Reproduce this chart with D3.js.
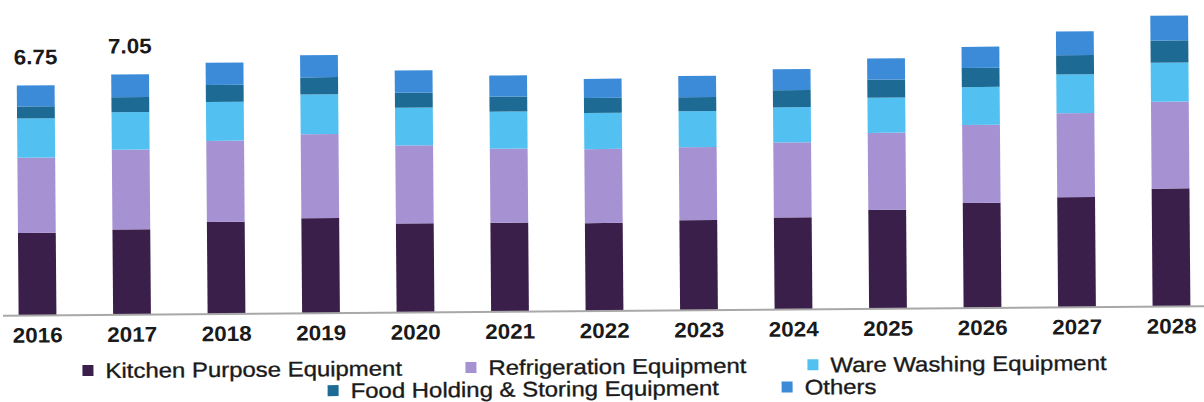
<!DOCTYPE html>
<html>
<head>
<meta charset="utf-8">
<script src="https://cdn.jsdelivr.net/npm/d3@7"></script>
<style>
  html, body { margin: 0; padding: 0; background: #fff; }
  svg { display: block; }
</style>
</head>
<body>
<svg id="chart" width="1204" height="402"></svg>
<script>
// ---- data ----
const years = ["2016","2017","2018","2019","2020","2021","2022","2023","2024","2025","2026","2027","2028"];
const seriesNames = ["Kitchen Purpose Equipment","Refrigeration Equipment","Ware Washing Equipment","Food Holding & Storing Equipment","Others"];
const kitchen       = [2.42, 2.50, 2.70, 2.79, 2.61, 2.61, 2.58, 2.64, 2.70, 2.90, 3.08, 3.23, 3.46];
const refrigeration = [2.21, 2.34, 2.38, 2.46, 2.29, 2.17, 2.17, 2.14, 2.20, 2.26, 2.29, 2.46, 2.55];
const wareWashing   = [1.15, 1.10, 1.14, 1.17, 1.11, 1.09, 1.06, 1.06, 1.03, 1.03, 1.11, 1.14, 1.14];
const foodHolding   = [0.35, 0.44, 0.50, 0.50, 0.44, 0.44, 0.44, 0.41, 0.50, 0.53, 0.56, 0.56, 0.65];
const others        = [0.62, 0.67, 0.65, 0.65, 0.65, 0.62, 0.56, 0.62, 0.62, 0.62, 0.62, 0.70, 0.73];
const totalLabels   = ["6.75", "7.05"]; // shown above the first two bars
const colors = ["#3b1f4b", "#a692d3", "#52c1f2", "#1d6a95", "#3b8bd9"];

// ---- build table ----
const keys = ["kitchen","refrigeration","wareWashing","foodHolding","others"];
const seriesArrays = [kitchen, refrigeration, wareWashing, foodHolding, others];
const table = years.map((yr, i) => {
  const row = { year: yr };
  keys.forEach((k, j) => row[k] = seriesArrays[j][i]);
  return row;
});
const stacked = d3.stack().keys(keys)(table);

const svg = d3.select("#chart");
const baseY = 311;
const root = svg.append("g").attr("transform", `rotate(-0.455, 600, ${baseY})`);

const x = d3.scaleBand().domain(years).range([-9.75, 1218.75]).paddingInner(0.6).paddingOuter(0.3);
const y = d3.scaleLinear().domain([0, 9]).range([baseY, baseY - 9 * 34.1]);
const color = d3.scaleOrdinal().domain(keys).range(colors);

// bars
root.append("g").selectAll("g").data(stacked).join("g")
  .attr("fill", d => color(d.key))
  .selectAll("rect").data(d => d).join("rect")
  .attr("x", d => x(d.data.year))
  .attr("width", x.bandwidth())
  .attr("y", d => y(d[1]))
  .attr("height", d => y(d[0]) - y(d[1]));

// baseline
root.append("line")
  .attr("x1", 3).attr("x2", 1210)
  .attr("y1", baseY).attr("y2", baseY)
  .attr("stroke", "#a8a8a8").attr("stroke-width", 2);

// x axis
const axis = root.append("g").attr("transform", `translate(0,${baseY})`)
  .call(d3.axisBottom(x).tickSize(0));
axis.select(".domain").remove();
axis.selectAll("text")
  .attr("y", 27).attr("dy", 0)
  .attr("transform", "scale(1.07,1)")
  .attr("font-family", "'Liberation Sans', Arial, sans-serif")
  .attr("font-size", 21).attr("font-weight", "bold").attr("fill", "#1a1a1a");

// total labels
const topVals = table.map(r => keys.reduce((s, k) => s + r[k], 0));
root.append("g").selectAll("text").data(totalLabels).join("text")
  .attr("transform", (d, i) => `translate(${x(years[i]) + x.bandwidth() / 2},${y(topVals[i]) - 21}) scale(1.07,1)`)
  .attr("text-anchor", "middle")
  .attr("font-family", "'Liberation Sans', Arial, sans-serif")
  .attr("font-size", 21).attr("font-weight", "bold").attr("fill", "#1a1a1a")
  .text(d => d);

// legend
const legendPos = [
  { sx: 82,  row: 0 },
  { sx: 465, row: 0 },
  { sx: 807, row: 0 },
  { sx: 327, row: 1 },
  { sx: 781, row: 1 }
];
const rowBase = [374, 396];
const lg = root.append("g").selectAll("g").data(seriesNames).join("g");
lg.append("rect")
  .attr("x", (d, i) => legendPos[i].sx)
  .attr("y", (d, i) => rowBase[legendPos[i].row] - 13)
  .attr("width", 11).attr("height", 11)
  .attr("fill", (d, i) => colors[i]);
lg.append("text")
  .attr("transform", (d, i) => `translate(${legendPos[i].sx + 23},${rowBase[legendPos[i].row]}) scale(1.14,1)`)
  .attr("font-family", "'Liberation Sans', Arial, sans-serif")
  .attr("font-size", 21).attr("fill", "#1a1a1a")
  .attr("stroke", "#1a1a1a").attr("stroke-width", 0.35)
  .text(d => d);
</script>
</body>
</html>
